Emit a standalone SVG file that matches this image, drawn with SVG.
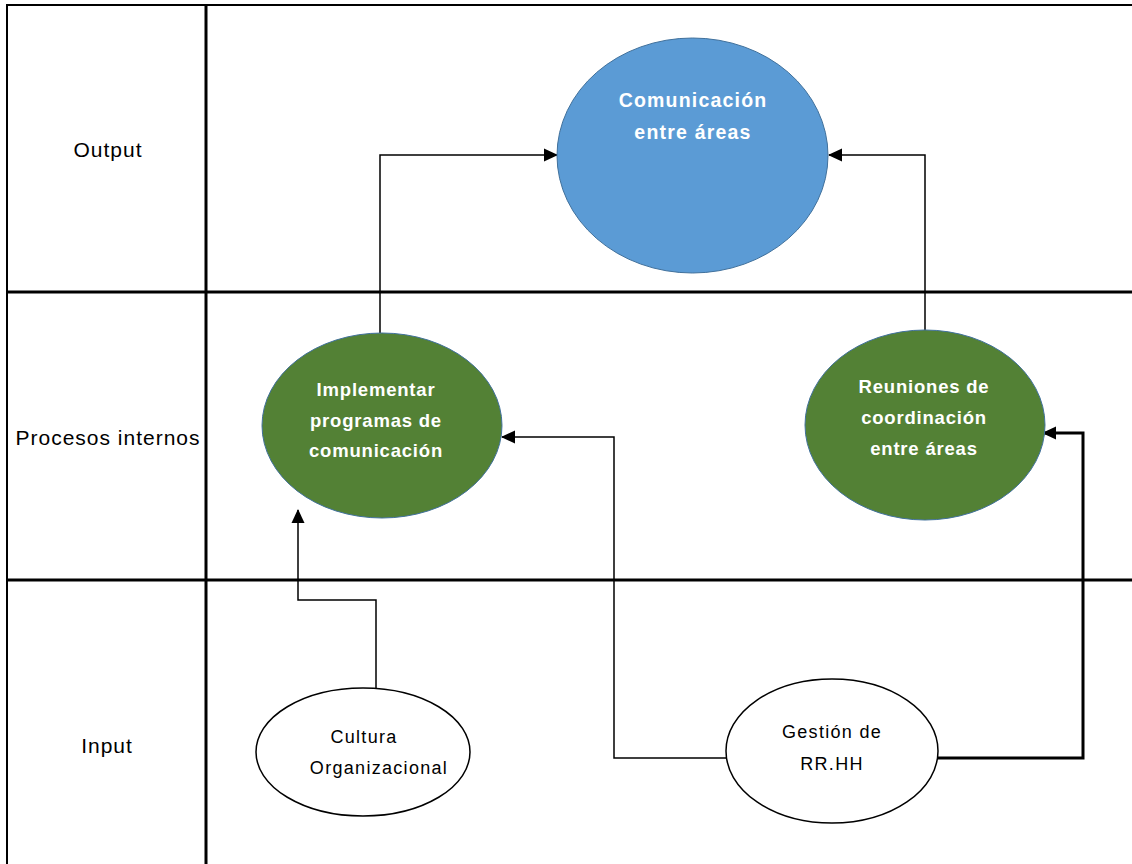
<svg xmlns="http://www.w3.org/2000/svg" width="1132" height="864" viewBox="0 0 1132 864">
<style>
.lbl{font-family:"Liberation Sans",Arial,sans-serif;font-size:21px;letter-spacing:1px;fill:#000;text-anchor:middle}
.wt{font-family:"Liberation Sans",Arial,sans-serif;font-size:18.5px;letter-spacing:0.8px;font-weight:bold;fill:#fff;text-anchor:middle}
.wt2{font-family:"Liberation Sans",Arial,sans-serif;font-size:19.5px;letter-spacing:1.2px;font-weight:bold;fill:#fff;text-anchor:middle}
.bt{font-family:"Liberation Sans",Arial,sans-serif;font-size:18px;letter-spacing:1.3px;fill:#000;text-anchor:middle}
.frame{stroke:#000;fill:none}
.conn{stroke:#000;fill:none;stroke-width:1.5}
.thick{stroke:#000;fill:none;stroke-width:3}
</style>
<defs>
<marker id="ah" markerWidth="14" markerHeight="14" refX="13" refY="7" orient="auto" markerUnits="userSpaceOnUse" viewBox="0 0 14 14">
<path d="M0,0.5 L14,7 L0,13.5 z" fill="#000"/>
</marker>
<marker id="ah2" markerWidth="14" markerHeight="14" refX="13" refY="7" orient="auto" markerUnits="userSpaceOnUse" viewBox="0 0 14 14">
<path d="M0,0.5 L14,7 L0,13.5 z" fill="#000"/>
</marker>
</defs>
<rect width="1132" height="864" fill="#fff"/>
<g id="frame">
<line class="frame" x1="7" y1="5" x2="1132" y2="5" stroke-width="2"/>
<line class="frame" x1="7" y1="4" x2="7" y2="864" stroke-width="2"/>
<line class="frame" x1="206" y1="4" x2="206" y2="864" stroke-width="3"/>
<line class="frame" x1="7" y1="292" x2="1132" y2="292" stroke-width="3"/>
<line class="frame" x1="7" y1="580" x2="1132" y2="580" stroke-width="3"/>
<text class="lbl" x="108" y="157">Output</text>
<text class="lbl" x="108" y="445">Procesos internos</text>
<text class="lbl" x="107" y="753">Input</text>
</g>
<g id="connectors">
<polyline class="conn" points="380,333 380,155 557,155" marker-end="url(#ah)"/>
<polyline class="conn" points="925,330 925,155 829,155" marker-end="url(#ah)"/>
<polyline class="conn" points="376,688 376,600 298,600 298,510" marker-end="url(#ah)"/>
<polyline class="conn" points="726,758 614,758 614,437 502,437" marker-end="url(#ah)"/>
<polyline class="thick" points="938,758 1083,758 1083,433 1043,433" marker-end="url(#ah2)"/>
</g>
<g id="n-comunicacion">
<ellipse cx="692.5" cy="155.5" rx="135.5" ry="117.5" fill="#5B9BD5" stroke="#41719C" stroke-width="1"/>
<text class="wt2" x="693" y="107">Comunicación</text>
<text class="wt2" x="693" y="139">entre áreas</text>
</g>
<g id="n-implementar">
<ellipse cx="382" cy="425.5" rx="120" ry="92.5" fill="#538135" stroke="#41719C" stroke-width="1"/>
<text class="wt" x="376" y="396">Implementar</text>
<text class="wt" x="376" y="427">programas de</text>
<text class="wt" x="376" y="457">comunicación</text>
</g>
<g id="n-reuniones">
<ellipse cx="925" cy="425" rx="120" ry="95" fill="#538135" stroke="#41719C" stroke-width="1"/>
<text class="wt" x="924" y="393">Reuniones de</text>
<text class="wt" x="924" y="424">coordinación</text>
<text class="wt" x="924" y="455">entre áreas</text>
</g>
<g id="n-cultura">
<ellipse cx="363" cy="752" rx="107" ry="64" fill="#fff" stroke="#000" stroke-width="1.5"/>
<text class="bt" x="364" y="743">Cultura</text>
<text class="bt" x="379" y="774">Organizacional</text>
</g>
<g id="n-gestion">
<ellipse cx="832" cy="751" rx="106" ry="72" fill="#fff" stroke="#000" stroke-width="1.5"/>
<text class="bt" x="832" y="738">Gestión de</text>
<text class="bt" x="832" y="770">RR.HH</text>
</g>
</svg>
